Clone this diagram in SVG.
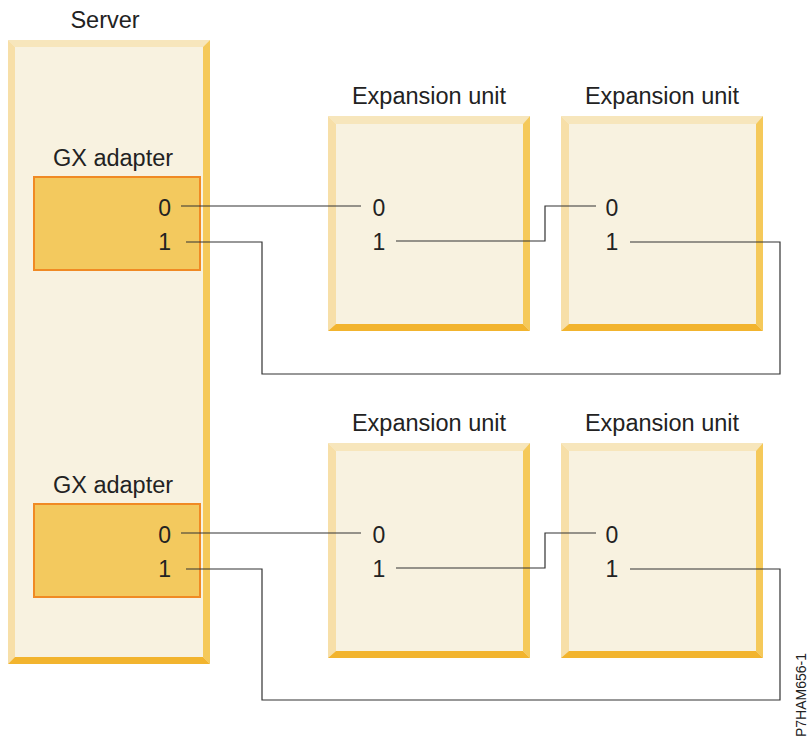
<svg xmlns="http://www.w3.org/2000/svg" width="809" height="738" viewBox="0 0 809 738">
<style>
text{font-family:"Liberation Sans",Arial,sans-serif;fill:#222;}
.lbl{font-size:23.5px;}
.num{font-size:23px;}
.in{fill:#F8F2E0;}
.tp{fill:#F7E6BC;}
.lf{fill:#F7DFA8;}
.rt{fill:#F5C95A;}
.bt{fill:#F2B42E;}
.ad{fill:#F3C95E;stroke:#F08A24;stroke-width:2;}
.w{fill:none;stroke:#333;stroke-width:1.2;}
</style>
<rect width="809" height="738" fill="#fff"/>
<g id="server">
<rect class="in" x="8" y="40" width="202" height="624"/>
<polygon class="tp" points="8,40 210,40 203,47 15,47"/>
<polygon class="lf" points="8,40 15,47 15,657 8,664"/>
<polygon class="rt" points="210,40 210,664 203,657 203,47"/>
<polygon class="bt" points="8,664 210,664 203,657 15,657"/>
<text class="lbl" x="105" y="28" text-anchor="middle">Server</text>
</g>
<g id="adapter1">
<rect class="ad" x="34" y="177" width="166" height="93"/>
<text class="lbl" x="113" y="166" text-anchor="middle">GX adapter</text>
<text class="num" x="171" y="216" text-anchor="end">0</text>
<text class="num" x="171" y="250" text-anchor="end">1</text>
</g>
<g id="adapter2">
<rect class="ad" x="34" y="504" width="166" height="93"/>
<text class="lbl" x="113" y="493" text-anchor="middle">GX adapter</text>
<text class="num" x="171" y="543" text-anchor="end">0</text>
<text class="num" x="171" y="577" text-anchor="end">1</text>
</g>
<defs>
<g id="unit">
<rect class="in" x="0" y="0" width="202" height="215"/>
<polygon class="tp" points="0,0 202,0 195,8 8,8"/>
<polygon class="lf" points="0,0 8,8 8,208 0,215"/>
<polygon class="rt" points="202,0 202,215 195,208 195,8"/>
<polygon class="bt" points="0,215 202,215 195,208 8,208"/>
</g>
</defs>
<g id="unit1">
<use href="#unit" x="328" y="116"/>
<text class="lbl" x="429" y="104" text-anchor="middle">Expansion unit</text>
<text class="num" x="379" y="216" text-anchor="middle">0</text>
<text class="num" x="379" y="250" text-anchor="middle">1</text>
</g>
<g id="unit2">
<use href="#unit" x="561" y="116"/>
<text class="lbl" x="662" y="104" text-anchor="middle">Expansion unit</text>
<text class="num" x="612" y="216" text-anchor="middle">0</text>
<text class="num" x="612" y="250" text-anchor="middle">1</text>
</g>
<g id="unit3">
<use href="#unit" x="328" y="443"/>
<text class="lbl" x="429" y="431" text-anchor="middle">Expansion unit</text>
<text class="num" x="379" y="543" text-anchor="middle">0</text>
<text class="num" x="379" y="577" text-anchor="middle">1</text>
</g>
<g id="unit4">
<use href="#unit" x="561" y="443"/>
<text class="lbl" x="662" y="431" text-anchor="middle">Expansion unit</text>
<text class="num" x="612" y="543" text-anchor="middle">0</text>
<text class="num" x="612" y="577" text-anchor="middle">1</text>
</g>
<g id="connectors">
<path class="w" d="M181,206 H361"/>
<path class="w" d="M186,242 H262 V374 H780 V242 H630"/>
<path class="w" d="M396,241 H545 V206 H596"/>
<path class="w" d="M181,533 H361"/>
<path class="w" d="M186,569 H262 V700 H780 V569 H630"/>
<path class="w" d="M396,568 H545 V533 H596"/>
</g>
<text x="806" y="737" font-size="14" transform="rotate(-90 806 737)">P7HAM656-1</text>
</svg>
